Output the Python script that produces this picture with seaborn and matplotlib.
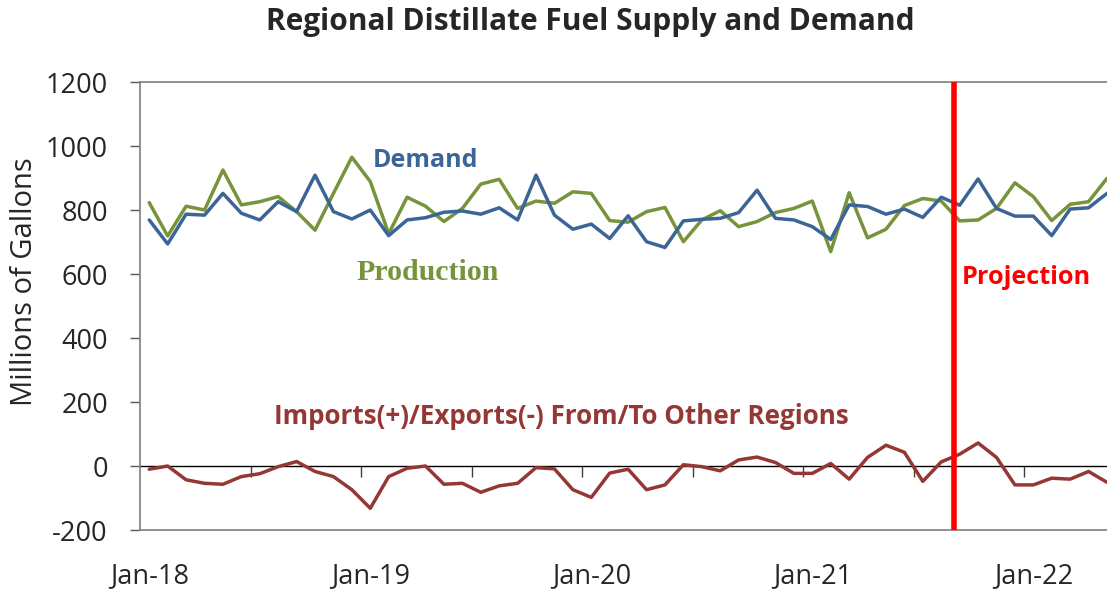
import pandas as pd
import matplotlib
matplotlib.use("Agg")
import matplotlib.pyplot as plt
import seaborn as sns

# monthly values, Jan-18 .. May-22 (millions of gallons)
months = pd.date_range("2018-01-01", periods=53, freq="MS")
demand = [769, 694, 787, 784, 852, 790, 769, 826, 795, 909, 795, 772, 800,
          720, 769, 776, 793, 797, 787, 807, 769, 909, 784, 740, 756, 711,
          782, 701, 683, 766, 771, 774, 792, 862, 774, 769, 748, 708, 816,
          811, 787, 803, 777, 840, 815, 897, 805, 781, 781, 720, 803, 807, 852]
production = [823, 719, 812, 800, 925, 816, 826, 842, 795, 737, 852, 965, 889,
              726, 840, 812, 764, 805, 881, 896, 805, 828, 821, 857, 852, 767,
              762, 795, 808, 701, 769, 798, 748, 764, 792, 805, 828, 670, 854,
              713, 740, 814, 836, 828, 766, 769, 805, 885, 842, 767, 818, 826, 899]
net_flow = [-10, 0, -43, -54, -57, -33, -24, -2, 14, -17, -33, -74, -132,
            -33, -7, 0, -57, -54, -82, -62, -54, -5, -9, -74, -98, -22,
            -10, -74, -59, 4, -2, -15, 19, 28, 11, -23, -23, 8, -41,
            27, 65, 43, -48, 13, 37, 72, 27, -59, -59, -38, -41, -17, -51]
year_labels = ["Jan-18", "Jan-19", "Jan-20", "Jan-21", "Jan-22"]

df = pd.DataFrame({"month": months, "demand": demand,
                   "production": production, "net": net_flow})
df["pos"] = range(len(df))

sns.set_style("white")
plt.rcParams["font.family"] = ["Open Sans", "DejaVu Sans"]
plt.rcParams["axes.unicode_minus"] = False

blue = "#3C6597"
green = "#77933C"
dred = "#953735"

fig = plt.figure(figsize=(11.07, 5.94), dpi=100)
ax = fig.add_axes([0.1265, 0.1077, 1 - 0.1265, 0.7542])

sns.lineplot(data=df, x="pos", y="production", color=green, lw=2.5, ax=ax)
sns.lineplot(data=df, x="pos", y="demand", color=blue, lw=2.5, ax=ax)
sns.lineplot(data=df, x="pos", y="net", color=dred, lw=2.5, ax=ax)

ax.set_xlim(-0.5, len(df) - 1)
ax.set_ylim(-200, 1200)
ax.set_yticks(range(-200, 1201, 200))

# year labels under the plot, one per January
jan_pos = df.loc[df["month"].dt.month == 1, "pos"].tolist()
ax.set_xticks(jan_pos)
ax.set_xticklabels(year_labels)
ax.tick_params(axis="x", length=0, pad=23, labelsize=19.5)
ax.tick_params(axis="y", direction="out", length=7.2, width=1, color="#595959",
               pad=16, labelsize=19.5, left=True)
ax.set_xlabel("")
ax.set_ylabel("Millions of Gallons", fontsize=21)
ax.yaxis.set_label_coords(-0.105, 0.555)

for s in ["left", "top", "bottom"]:
    ax.spines[s].set_color("#7f7f7f")
    ax.spines[s].set_linewidth(1.2)
ax.spines["right"].set_visible(False)

# zero axis with half-year tick marks
frac0 = (0 - (-200)) / 1400
zero_ax = ax.secondary_xaxis(frac0)
zero_ax.set_xticks([p - 0.5 for p in df["pos"] if p % 6 == 0 and p > 0])
zero_ax.set_xticklabels([])
zero_ax.tick_params(direction="out", length=8, width=1, color="#404040")
zero_ax.spines["bottom"].set_color("black")
zero_ax.spines["bottom"].set_linewidth(1.0)

# projection marker
ax.axvline(43.7, color="red", lw=4, zorder=5)

ax.text(15.0, 956, "Demand", color=blue, fontsize=18, fontweight="bold",
        ha="center", va="center")
ax.text(15.1, 606, "Production", color=green, fontsize=21.5, fontweight="bold",
        ha="center", va="center", family="Liberation Serif")
ax.text(22.35, 156, "Imports(+)/Exports(-) From/To Other Regions", color=dred,
        fontsize=18.7, fontweight="bold", ha="center", va="center")
ax.text(44.1, 590, "Projection", color="red", fontsize=18.2, fontweight="bold",
        ha="left", va="center")

fig.text(0.533, 0.963, "Regional Distillate Fuel Supply and Demand",
         fontsize=21.5, fontweight="bold", ha="center", va="center")

fig.savefig("out.png", dpi=100)
